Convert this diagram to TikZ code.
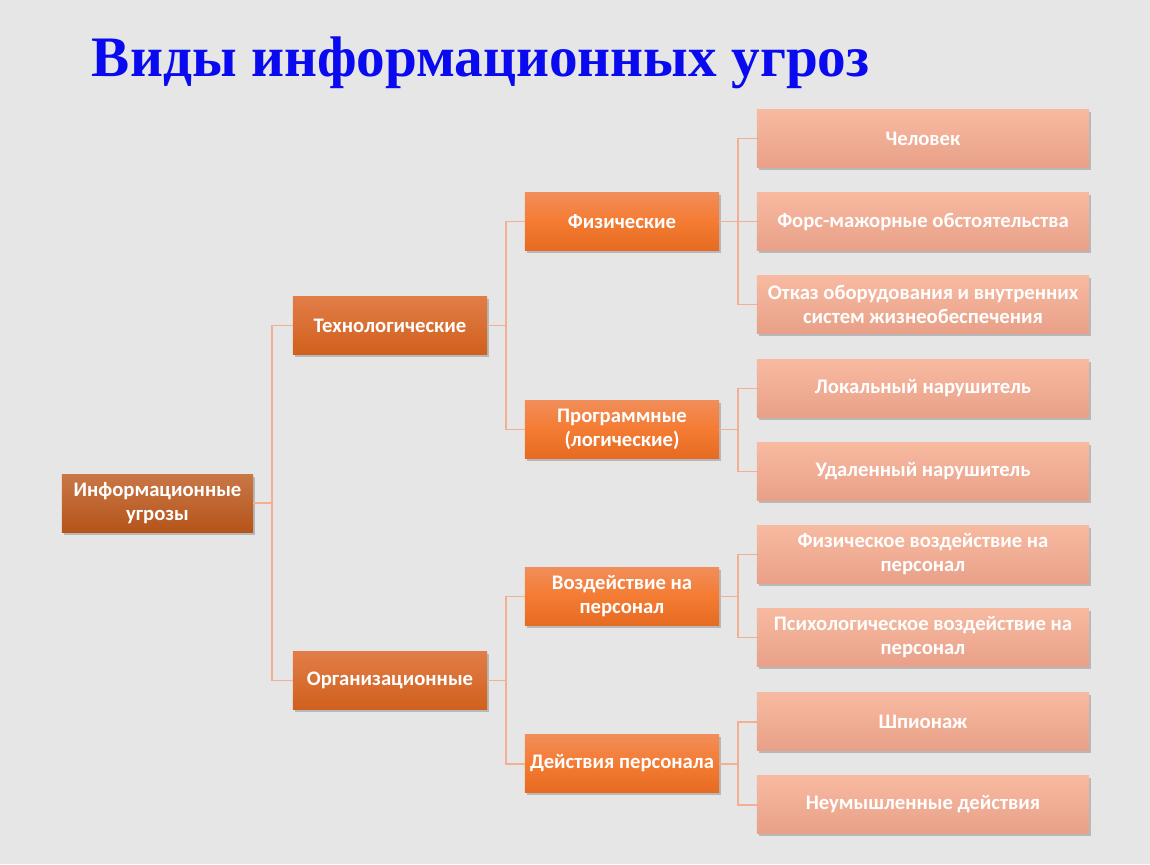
\documentclass[tikz,border=0pt]{standalone}
\usepackage{fontspec}
\setmainfont{Carlito}
\newfontfamily\titlefont{Liberation Serif}
\usetikzlibrary{shadows}

\definecolor{bgcol}{HTML}{E6E6E6}
\definecolor{linkcol}{HTML}{F4AE92}
\definecolor{titleblue}{HTML}{0A0AF0}
\definecolor{roottop}{HTML}{C97746}
\definecolor{rootbot}{HTML}{B5541A}
\definecolor{lvltwotop}{HTML}{E27D48}
\definecolor{lvltwobot}{HTML}{D0601C}
\definecolor{lvlthreetop}{HTML}{F18E5A}
\definecolor{lvlthreemid}{HTML}{F47B32}
\definecolor{lvlthreebot}{HTML}{E66A22}
\definecolor{lvlfourtop}{HTML}{F7BAA0}
\definecolor{lvlfourbot}{HTML}{E9A089}

\newcommand{\boxfont}{\bfseries\fontsize{14.7}{17}\selectfont}

\begin{document}
\begin{tikzpicture}[x=0.025cm,y=-0.025cm]

\tikzset{%
every box/.style={
rectangle,
draw=none,
text=white,
font=\boxfont,
align=center,
inner sep=2pt,
drop shadow={shadow xshift=1.2pt,shadow yshift=-1.8pt,opacity=0.45}
},
box root/.style={
minimum width=4.78cm, minimum height=1.45cm,
top color=roottop, bottom color=rootbot
},
box tech/.style={
minimum width=4.85cm, minimum height=1.47cm,
top color=lvltwotop, bottom color=lvltwobot
},
box kind/.style={
minimum width=4.85cm, minimum height=1.47cm,
top color=lvlthreetop, bottom color=lvlthreebot, middle color=lvlthreemid
},
box leaf/.style={
minimum width=8.3cm, minimum height=1.43cm,
top color=lvlfourtop, bottom color=lvlfourbot
},
leaf text/.style={font=\boxfont, text=white, align=center},
link/.style={draw=linkcol, line width=1.4pt}
}

% Background and title
\fill[bgcol] (0,0) rectangle (1150,864);
\node[anchor=west, text=titleblue, font=\titlefont\bfseries\fontsize{40.7}{44}\selectfont] (title) at (87,63) {Виды информационных угроз};

% Root
\node [every box/.try, box root/.try] (info) at (157.5,503) {Информационные\\угрозы};

% Second level
\node [every box/.try, box tech/.try] (tech) at (390,325.5) {Технологические};
\node [every box/.try, box tech/.try] (org) at (390,680.5) {Организационные};

% Third level
\node [every box/.try, box kind/.try] (fiz) at (622,221.5) {Физические};
\node [every box/.try, box kind/.try] (prog) at (622,429.5) {Программные\\(логические)};
\node [every box/.try, box kind/.try] (vozd) at (622,596.5) {Воздействие на\\персонал};
\node [every box/.try, box kind/.try] (deist) at (622,763.5) {Действия персонала};

% Leaves
\foreach \m/\t in {leaf-1/138.5, leaf-2/221.5, leaf-3/304.5, leaf-4/388.5, leaf-5/471.5, leaf-6/554.5, leaf-7/637.5, leaf-8/721.5, leaf-9/804.5}
\node [every box/.try, box leaf/.try] (\m) at (923,\t) {};

\node at (leaf-1) [leaf text] (txt-1) {Человек};
\node at (leaf-2) [leaf text] (txt-2) {Форс-мажорные обстоятельства};
\node at (leaf-3) [leaf text] (txt-3) {Отказ оборудования и внутренних\\систем жизнеобеспечения};
\node at (leaf-4) [leaf text] (txt-4) {Локальный нарушитель};
\node at (leaf-5) [leaf text] (txt-5) {Удаленный нарушитель};
\node at (leaf-6) [leaf text] (txt-6) {Физическое воздействие на\\персонал};
\node at (leaf-7) [leaf text] (txt-7) {Психологическое воздействие на\\персонал};
\node at (leaf-8) [leaf text] (txt-8) {Шпионаж};
\node at (leaf-9) [leaf text] (txt-9) {Неумышленные действия};

% Connectors
\foreach \c in {tech,org}
\draw [link] (info.east) -- ++(19,0) |- (\c.west);
\foreach \c in {fiz,prog}
\draw [link] (tech.east) -- ++(19,0) |- (\c.west);
\foreach \c in {vozd,deist}
\draw [link] (org.east) -- ++(19,0) |- (\c.west);
\foreach \c in {1,2,3}
\draw [link] (fiz.east) -- ++(19,0) |- (leaf-\c.west);
\foreach \c in {4,5}
\draw [link] (prog.east) -- ++(19,0) |- (leaf-\c.west);
\foreach \c in {6,7}
\draw [link] (vozd.east) -- ++(19,0) |- (leaf-\c.west);
\foreach \c in {8,9}
\draw [link] (deist.east) -- ++(19,0) |- (leaf-\c.west);

\end{tikzpicture}
\end{document}
